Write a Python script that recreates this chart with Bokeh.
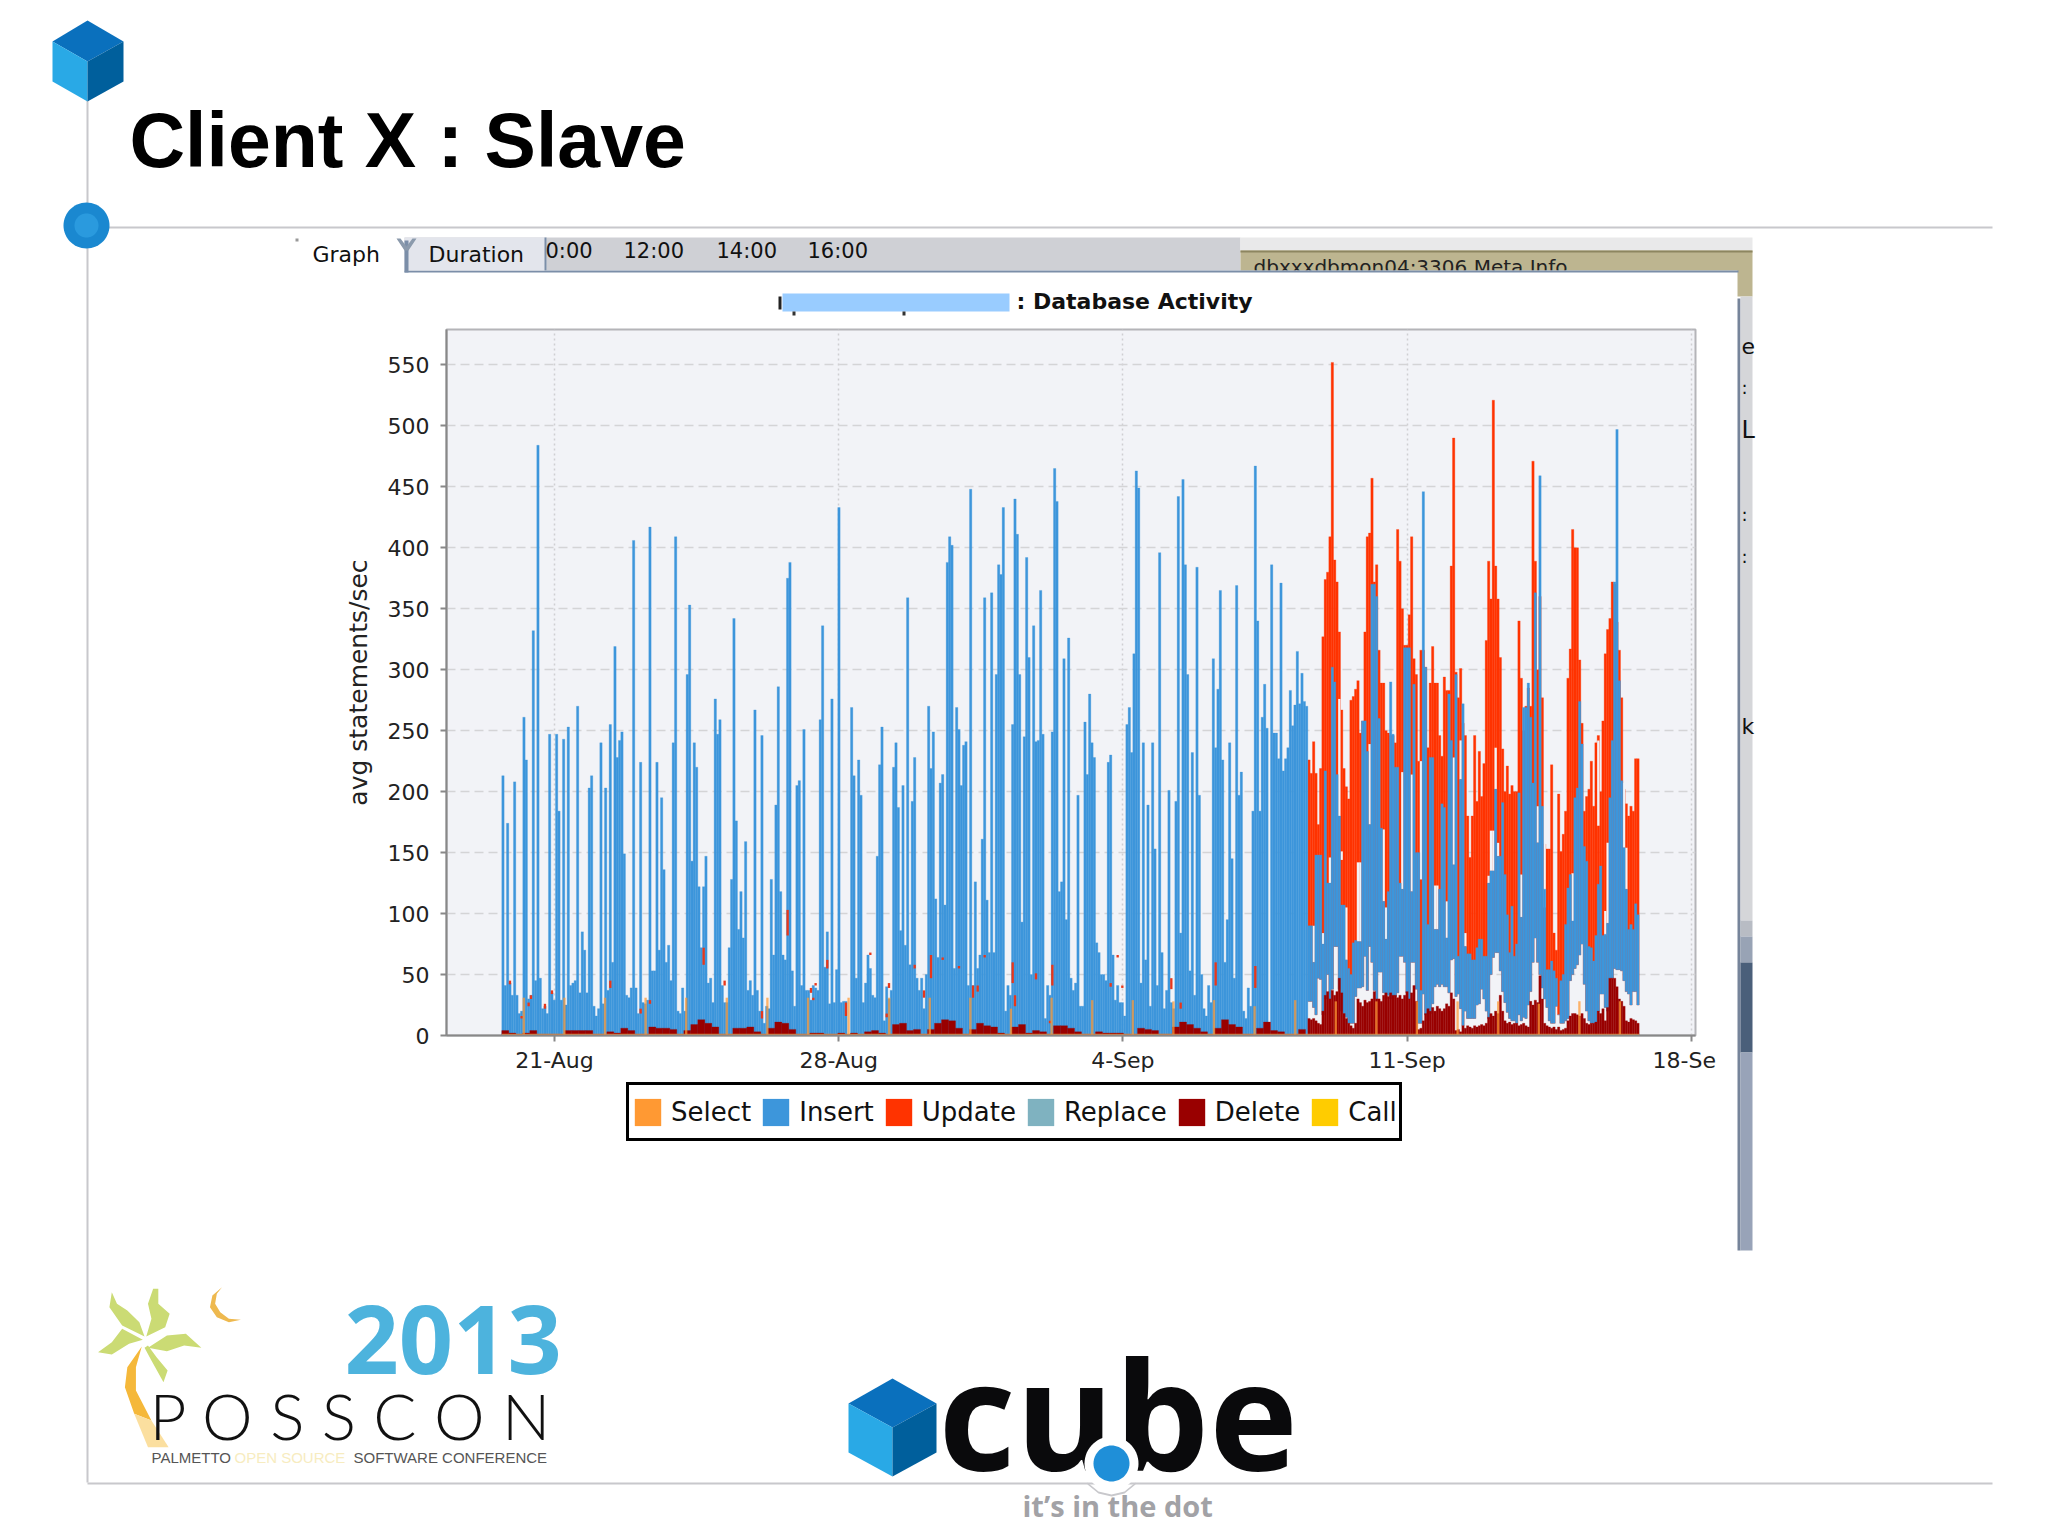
from bokeh.embed import file_html
from bokeh.resources import INLINE
from bokeh.plotting import figure
from bokeh.core.properties import value
from bokeh.models import Legend, LegendItem, FixedTicker, Range1d
import numpy as np

# ---------- chart data ----------
y_ticks = [0, 50, 100, 150, 200, 250, 300, 350, 400, 450, 500, 550]
x_ticks = [0, 7, 14, 21, 28]
x_labels = ["21-Aug", "28-Aug", "4-Sep", "11-Sep", "18-Se\u00a0\u00a0"]

insert_a = [213,41,174,43,33,208,33,18,20,261,226,30,33,332,45,484,47,22,24,18,247,35,29,247,184,29,243,25,253,41,
43,45,270,35,85,70,35,203,213,24,16,22,240,26,203,37,255,60,319,228,242,249,149,33,31,39,406,39,18,224,
27,26,29,417,53,53,224,70,195,136,60,74,45,240,409,20,18,39,20,296,353,143,240,220,122,72,122,147,43,47,
27,276,247,259,41,27,27,72,128,342,176,87,118,80,159,37,45,33,267,37,20,246,10,24,22,128,66,189,286,118,
66,62,375,388,53,24,205,209,41,251,37,37,29,41,39,37,259,336,56,85,26,276,27,54,433,27,28,28]
insert_b = [269,213,47,226,197,27,43,66,55,33,31,147,222,253,12,40,30,37,220,240,187,86,205,74,359,58,192,228,47,37,
47,22,50,270,219,249,112,64,207,214,107,388,409,402,55,269,251,205,238,241,41,448,41,126,55,66,161,359,111,68,
363,68,296,386,378,433,20,41,33,255,440,411,296,93,245,392,310,50,336,241,242,365,247,14,41,33,249,465,438,118,
126,309,95,326,47,37,43,197,24,24,257,214,280,240,228,76,68,50,50,45,224,230,66,29,41,27,27,16,255,269,
232,313,463,449,43,240,62,189,24,240,153,41,396,68,22,37,201,27,22,192,442,84,456,386,296,53,232,33,384,197,
50,22,16,41,27,309,236,284,365,226,60,95,240,145,47,369,197,216,20,14,39,24,184,467,340,184,261,288,252]
insert_c = [386,248,248,227,371,217,227,236,283,254,271,315,272,297,274,270,
90,90,60,148,148,148,75,217,125,125,302,290,214,180,107,107,62,55,50,76,78,77,77,258,258,233,173,370,370,360,
260,170,110,79,118,290,247,220,220,125,120,318,318,318,118,288,150,150,37,446,302,91,228,228,87,87,120,190,187,80,
280,242,140,296,65,210,272,73,67,67,62,
62,72,79,79,65,65,125,135,135,202,147,147,191,132,99,68,106,65,75,199,97,269,269,289,261,207,363,158,459,188,
120,54,54,61,53,47,17,45,50,91,121,132,94,195,203,274,239,155,143,73,72,61,82,124,139,82,83,92,195,242,
372,497,291,209,154,120,87,91,87,108,99]

# floor of the stacked blue and red bars in the last week (white shows below it)
stack_floor_c = [28,28,23,17,47,46,17,30,50,30,38,73,73,38,20,18,15,10,10,10,32,39,39,40,65,37,73,60,37,30,
52,52,35,30,33,30,30,32,35,65,65,60,35,30,60,60,38,10,10,34,17,12,18,26,40,42,40,42,40,40,
35,62,63,32,34,22,8,20,14,14,14,
14,25,26,38,30,20,14,50,64,68,68,53,36,27,19,14,12,12,10,17,12,15,14,25,36,60,80,60,50,39,
30,23,12,10,10,24,17,10,10,12,14,45,50,55,58,66,75,42,20,12,10,10,10,20,34,34,23,20,47,47,
55,54,54,53,45,36,34,25,36,36,25]
update_c = [226,215,241,215,173,219,327,374,380,409,552,390,372,331,267,219,204,194,275,278,284,291,248,258,331,409,412,457,372,386,
316,289,289,250,248,246,246,240,415,389,350,320,320,345,409,309,296,225,316,316,302,236,289,319,289,289,246,229,294,283,
283,385,490,298,277,301,256,246,180,146,180,246,192,233,196,223,324,389,358,521,385,358,310,235,200,221,198,205,200,200,
340,293,250,270,285,270,471,389,300,360,277,157,153,153,222,84,70,198,151,165,184,293,317,415,400,400,308,256,184,196,
202,225,188,240,246,200,258,313,333,342,372,370,339,316,277,202,190,180,188,184,227,227]
# white slits between the blue and the red part of a bar
slit_bar = [2,6,9,13,14,16,21,22,26,32,33,40,44,48,54,55,59,62,65,67,77,78,79,80,81,91,98,101,113,124,127,128,135,136]
slit_lo = [60,75,125,180,144,62,77,77,173,110,79,120,118,128,87,87,80,140,210,73,125,135,135,202,147,97,158,105,94,172,82,92,154,120]
slit_hi = [90,84,146,276,151,105,142,142,239,169,105,216,214,225,123,123,110,228,242,84,131,168,168,236,158,132,188,188,133,242,102,158,207,154]
delete_a = [4,2,1,2,4,1,1,1,1,4,4,4,4,1,1,3,2,6,4,1,1,7,6,6,5,1,4,9,13,10,7,1,1,6,6,7,3,1,6,11,10,5,1,1,2,2,1,1,2,1]
delete_b = [2,1,3,4,2,1,9,10,4,5,1,5,10,13,12,6,1,5,10,8,7,2,1,7,9,2,4,3,1,8,8,6,3,1,1,3,2,2,2,1,1,6,5,4,1,1,7,11,9,6,3,1,6,13,9,7,1,1,6,11]
delete_c0 = [4,3,1,1,5]
delete_c = [14,13,14,12,10,9,20,33,36,30,37,33,36,47,35,18,14,10,8,6,10,30,27,24,29,27,28,30,36,30,
30,28,33,35,32,35,33,33,31,33,30,33,36,30,35,41,28,5,6,12,18,22,20,23,20,24,22,20,22,26,
24,35,30,4,5,3,8,6,8,7,6,8,7,8,9,8,10,15,18,16,20,18,33,20,12,10,11,9,10,10,
8,9,10,8,7,28,25,29,27,49,30,10,8,7,6,7,5,7,4,5,6,12,16,18,18,17,16,18,14,10,
9,10,10,11,20,18,22,12,23,47,47,47,40,30,28,24,12,11,14,13,12,10]
# small red specks in the first three weeks
speck_bar = [3,8,11,12,18,21,46,59,63,86,95,111,122,132,133,134,139,147,156,163,164,175,179,182,187,194,200,202,205,217,218,227,233,234,259,262,264,285,289,304,321]
speck_lo = [42,14,24,30,22,34,39,18,26,58,41,14,82,35,29,41,55,16,66,15,39,55,31,47,62,55,31,36,64,43,24,46,10,41,40,64,39,38,22,41,39]
speck_hi = [45,16,27,33,26,37,45,22,29,72,45,20,103,39,31,43,62,27,68,18,43,58,37,66,64,57,41,41,66,60,33,51,12,58,43,66,41,47,27,60,57]
select_vals = [31,31,31,31,31,31,31,31,31,31,31,31,22,31,29,29,28,29,24,29,28,28,28,28,28,26,28,28]
select_floor = 1.5

# ---------- page geometry ----------
W, H = 2048, 1535
X0, PX_DAY = 554.0, 40.6     # page x of day 0 (21-Aug), px per day
Y0, PX_UNIT = 1035.0, 1.2185 # page y of value 0, px per unit
F_L, F_R, F_T = 446.0, 1695.0, 329.5
def dx(px): return (px - X0) / PX_DAY
def dy(py): return (Y0 - py) / PX_UNIT

BAR = 2.3333 / PX_DAY
start_a, start_b, start_c = dx(501.3), dx(850.0), dx(1270.0)
days_a = start_a + BAR * np.arange(len(insert_a))
days_b = start_b + BAR * np.arange(len(insert_b))
days_c = start_c + BAR * np.arange(len(insert_c))
days = np.concatenate([days_a, days_b, days_c])
insert_top = np.array(insert_a + insert_b + insert_c, float)
n_late = len(stack_floor_c)
days_late = days[-n_late:]
floor = np.zeros(len(days)); floor[-n_late:] = stack_floor_c
DEL3 = 7.0 / PX_DAY

p = figure(width=W, height=H, output_backend="svg", toolbar_location=None,
           x_range=Range1d(dx(F_L), dx(F_R)), y_range=Range1d(0, dy(F_T)),
           min_border_left=int(F_L), min_border_right=int(W - F_R),
           min_border_top=int(F_T), min_border_bottom=int(H - Y0),
           background_fill_color="#f2f3f7", border_fill_alpha=0,
           outline_line_color="#b4b4b8", outline_line_width=2,
           styles={"position": "absolute", "left": "0px", "top": "0px"})

COL = dict(select="#ff9933", insert="#3d96db", update="#ff3300", replace="#7fb2c0", delete="#990000", call="#ffcc00")

p.quad(left=days_late, right=days_late + BAR, bottom=stack_floor_c, top=update_c,
       fill_color=COL["update"], line_color=COL["update"], line_width=0.3)
sl = np.array(slit_bar)
p.quad(left=days_late[sl], right=days_late[sl] + BAR, bottom=slit_lo, top=slit_hi,
       fill_color="#f2f3f7", line_color=None)
p.quad(left=days, right=days + BAR, bottom=floor, top=insert_top,
       fill_color=COL["insert"], line_color=COL["insert"], line_width=0.3)
sb = np.array(speck_bar)
p.quad(left=days[sb], right=days[sb] + BAR, bottom=speck_lo, top=speck_hi,
       fill_color="#e8361a", line_color=None)
del_early = np.array(delete_a + delete_b + delete_c0, float)
de_days = np.concatenate([start_a + DEL3 * np.arange(len(delete_a)),
                          start_b + DEL3 * np.arange(len(delete_b)),
                          start_c + DEL3 * np.arange(len(delete_c0))])
p.quad(left=de_days, right=de_days + DEL3, bottom=0, top=del_early,
       fill_color=COL["delete"], line_color=COL["delete"], line_width=0.3)
p.quad(left=days_late, right=days_late + BAR, bottom=0, top=delete_c,
       fill_color=COL["delete"], line_color=COL["delete"], line_width=0.3)
sel_days = dx(523.3) + np.arange(len(select_vals))
p.quad(left=sel_days - BAR / 2, right=sel_days + BAR / 2, bottom=0, top=select_vals,
       fill_color=COL["select"], line_color=None, fill_alpha=0.72)
p.quad(left=[days[0]], right=[days[-1] + BAR], bottom=[0], top=[select_floor],
       fill_color=COL["select"], line_color=None, fill_alpha=0.8)

FONT = "DejaVu Sans"
p.xaxis.ticker = FixedTicker(ticks=x_ticks)
p.xaxis.major_label_overrides = dict(zip(x_ticks, x_labels))
p.yaxis.ticker = FixedTicker(ticks=y_ticks)
p.yaxis.axis_label = "avg statements/sec"
p.yaxis.axis_label_text_font = FONT
p.yaxis.axis_label_text_font_size = "25px"
p.yaxis.axis_label_text_font_style = "normal"
p.yaxis.axis_label_text_color = "#222222"
p.yaxis.axis_label_standoff = 12
for ax in (p.xaxis, p.yaxis):
    ax.axis_line_color = "#888888"
    ax.axis_line_width = 2
    ax.major_tick_line_color = "#888888"
    ax.major_tick_line_width = 2
    ax.major_tick_out = 6
    ax.major_tick_in = 0
    ax.minor_tick_line_color = None
    ax.major_label_text_font = FONT
    ax.major_label_text_font_size = "22px"
    ax.major_label_text_color = "#222222"
p.xaxis.major_label_standoff = 6
p.yaxis.major_label_standoff = 11
p.xgrid.grid_line_color = "#cfcfd2"
p.xgrid.grid_line_dash = "2 3"
p.ygrid.grid_line_color = "#d4d4d6"
p.ygrid.grid_line_dash = "9 5"
p.xgrid.grid_line_width = 1.5
p.ygrid.grid_line_width = 1.5

# ---------- slide backdrop in page pixels ----------
bg = figure(width=W, height=H, output_backend="svg", toolbar_location=None,
            x_range=Range1d(0, W), y_range=Range1d(H, 0), x_axis_type=None, y_axis_type=None,
            min_border=0, outline_line_color=None, background_fill_color="#ffffff", border_fill_color="#ffffff",
            styles={"position": "absolute", "left": "0px", "top": "0px"})
bg.grid.visible = False

def box(l, t, r, b, color):
    bg.quad(left=[l], right=[r], top=[t], bottom=[b], fill_color=color, line_color=None)
def poly(pts, color):
    bg.patch([a for a, _ in pts], [b for _, b in pts], fill_color=color, line_color=None)
def ell(cx, cy, rx, ry, color):
    t = np.linspace(0, 2 * np.pi, 60, endpoint=False)
    poly(list(zip(cx + rx * np.cos(t), cy + ry * np.sin(t))), color)
def text(x, y, s, size, color="#111111", font=FONT, style="normal", align="left", base="middle"):
    bg.text(x=[x], y=[y], text=[s], text_font=value(font), text_font_size=value(f"{size}px"), text_color=color,
            text_font_style=style, text_align=align, text_baseline=base)
def cube(top, right, rlow, bottom, llow, left, center):
    poly([top, right, center, left], "#0a70bd")
    poly([left, center, bottom, llow], "#29a9e6")
    poly([center, right, rlow, bottom], "#005f9c")

box(86, 100, 88, 1482, "#c8c8cc")
box(108, 226, 1992, 228, "#c8c8cc")
box(87, 1482, 1992, 1484, "#c8c8cc")
cube((87, 20), (123, 41), (123, 81), (87, 101), (52, 81), (52, 41), (87, 61))
ell(86, 225, 23, 23, "#1a88d0")
ell(86, 225, 12, 12, "#2a9ade")
text(129, 139, "Client X : Slave", 77, "#000000", "Liberation Sans", "bold")

box(404, 237, 1240, 270, "#cfd0d5")
box(1240, 237, 1752, 250, "#e9e9ea")
box(1240, 250, 1752, 296, "#bdb590")
box(1240, 250, 1752, 252, "#8d8660")
text(1253, 266, "dbxxxdbmon04:3306 Meta Info", 20, "#222222")
box(404, 270, 1737, 298, "#ffffff")
box(404, 270, 1738, 272, "#7b8ea8")
box(404, 237, 546, 270, "#e3e5ec")
box(404, 240, 408, 272, "#7b8ea8")
poly([(396, 238), (400, 238), (406, 246), (412, 238), (416, 238), (408, 250), (404, 250)], "#8b9aac")
box(544, 237, 546, 270, "#7b8ea8")
box(295, 238, 298, 241, "#999999")
text(312, 254, "Graph", 22)
text(428, 254, "Duration", 22)
for x, s in [(545, "0:00"), (623, "12:00"), (716, "14:00"), (807, "16:00")]:
    text(x, 250, s, 21)
box(1737, 298, 1740, 1250, "#76849a")
box(1740, 296, 1752, 920, "#d5d6d9")
box(1740, 920, 1752, 936, "#b8bcc4")
box(1740, 936, 1752, 962, "#98a3b5")
box(1740, 962, 1752, 1052, "#4a5f7a")
box(1740, 1052, 1752, 1250, "#98a3b8")
for y, s, sz in [(345, "e", 22), (387, ":", 18), (429, "L", 24), (514, ":", 18), (556, ":", 18), (726, "k", 22)]:
    text(1741, y, s, sz, "#111111")
box(782, 293, 1009, 311, "#99ccff")
box(778, 296, 781, 309, "#222222")
box(792, 311, 795, 315, "#333333")
box(902, 311, 905, 315, "#333333")
text(1016, 301, ": Database Activity", 22, "#111111", FONT, "bold")

# legend swatches: one blank row each, nothing of them lands on the chart
swatch = {k: bg.quad(left=[np.nan], right=[np.nan], top=[np.nan], bottom=[np.nan], fill_color=c, line_color=None)
          for k, c in COL.items()}
legend = Legend(items=[LegendItem(label=k.capitalize(), renderers=[swatch[k]])
                       for k in ["select", "insert", "update", "replace", "delete", "call"]],
                orientation="horizontal", location=(626, H - 1141),
                label_text_font=FONT, label_text_font_size="26px", label_text_color="#111111",
                glyph_width=33, glyph_height=34, label_standoff=7, spacing=8, padding=2, margin=0,
                label_height=49, border_line_color="#000000", border_line_alpha=1, border_line_width=3,
                background_fill_color="#ffffff", background_fill_alpha=1)
bg.add_layout(legend, "center")

# POSSCON logo
Z = lambda zx, zy: (70 + zx / 2.904, 1260 + zy / 3)
for pts in ([(120,95),(113,140),(150,195),(215,228),(200,185),(165,150),(135,130)],
            [(240,85),(225,130),(235,175),(220,228),(275,200),(288,160),(255,130),(255,85)],
            [(225,262),(280,225),(335,220),(380,262),(330,255),(280,272)],
            [(80,275),(120,245),(150,205),(210,238),(170,250),(120,282)],
            [(215,262),(235,300),(270,365),(282,330),(250,290),(225,255)]):
    poly([Z(*q) for q in pts], "#cbdb74")
poly([Z(*q) for q in [(207,258),(165,320),(158,380),(185,460),(235,480),(190,390),(190,320)]], "#f5b83a")
poly([Z(*q) for q in [(185,460),(225,560),(285,560),(235,480)]], "#fbdf9f")
poly([Z(*q) for q in [(440,80),(412,105),(405,140),(425,170),(460,185),(495,178),(460,175),(435,155),(420,130),(425,100)]], "#eeb94f")
text(344, 1339, "2013", 95, "#4db3dd", "Open Sans", "bold")
text(149, 1415, "P O S S C O N", 64, "#111111", "Lato Light")
text(151, 1457, "PALMETTO", 15, "#555555", "Liberation Sans")
text(234, 1457, "OPEN SOURCE", 15, "#f7ecc0", "Liberation Sans")
text(353, 1457, "SOFTWARE CONFERENCE", 15, "#555555", "Liberation Sans")

# cube logo
cube((892, 1378), (936, 1403), (936, 1452), (892, 1476), (848, 1452), (848, 1403), (892, 1427))
text(938, 1412, "cube", 150, "#0a0a0c", "Open Sans", "bold")
ell(1111, 1463, 27, 27, "#ffffff")
poly([(1087, 1482), (1098, 1491), (1111, 1494), (1124, 1491), (1135, 1482), (1135, 1484), (1124, 1493), (1111, 1496), (1098, 1493), (1087, 1484)], "#c8c8cc")
ell(1111, 1463, 18, 18, "#1f8fd8")
text(1022, 1505, "it\u2019s in the dot", 29, "#a2a2a6", "Open Sans", "bold")

open("out.html", "w").write(file_html([bg, p], INLINE))
